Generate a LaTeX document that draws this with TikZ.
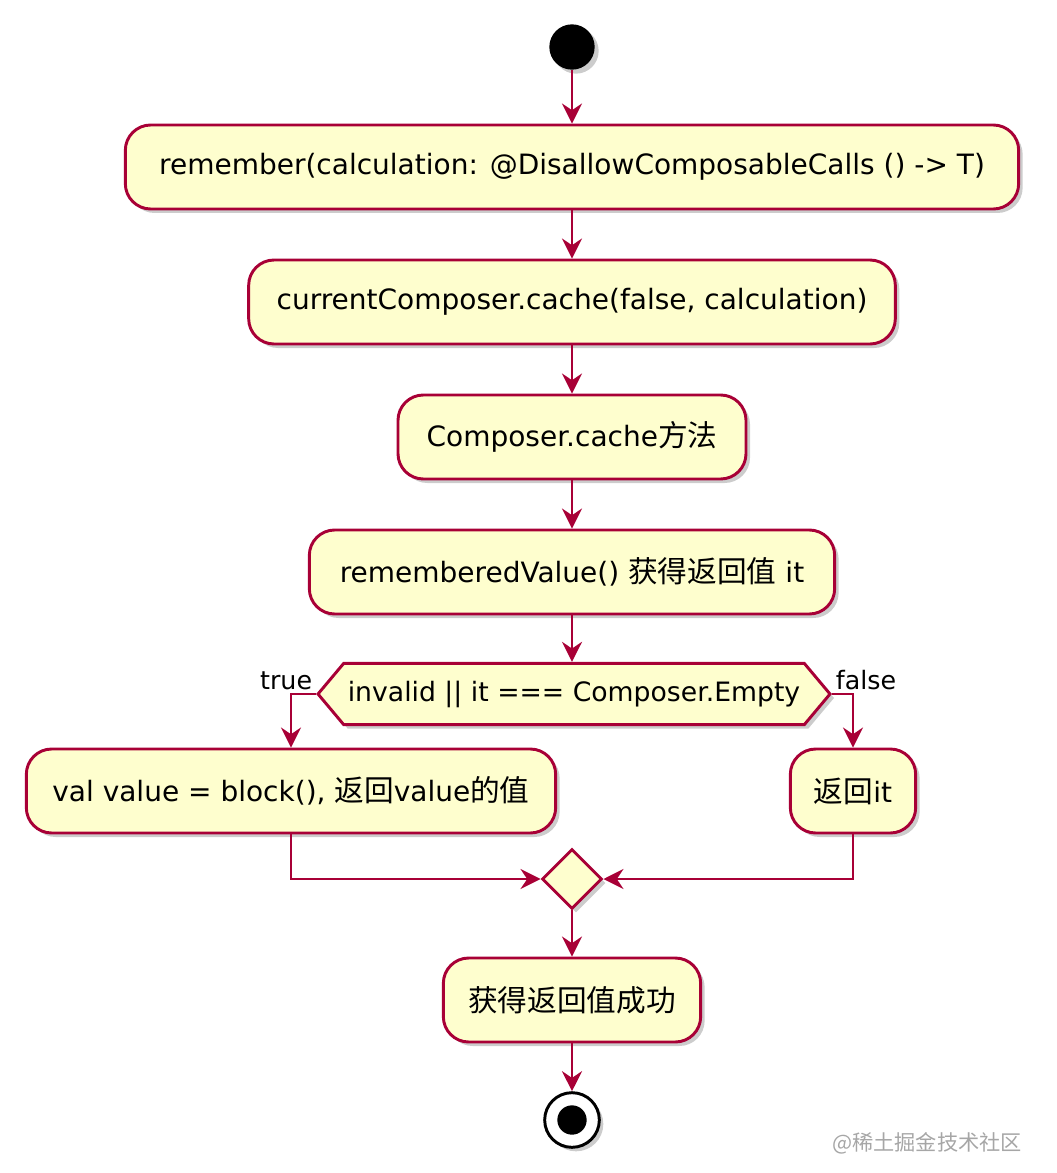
\documentclass[tikz,border=0pt]{standalone}
\usepackage{fontspec}
\setmainfont{DejaVu Sans}
\newfontfamily\cjk[Scale=1.06]{Noto Sans CJK SC}
\usetikzlibrary{shapes.geometric, shapes.symbols, arrows.meta, shadows}
\definecolor{umlred}{HTML}{A80036}
\definecolor{umlfill}{HTML}{FEFECE}

\begin{document}
\begin{tikzpicture}[
    x=0.75pt, y=-0.75pt,
    >={Stealth[length=15pt, width=15pt, inset=5pt]},
    font=\fontsize{21}{24}\selectfont,
    shade/.style={drop shadow={shadow xshift=3pt, shadow yshift=-3pt, fill=black!40, opacity=0.5}},
    act/.style={rectangle, draw=umlred, line width=2.2pt, fill=umlfill, rounded corners=19pt, minimum height=63pt, inner xsep=14pt, shade},
    cond/.style={signal, signal to=west and east, signal pointer angle=100, draw=umlred, line width=2.2pt, fill=umlfill, minimum height=46pt, minimum width=384pt, inner xsep=2pt, font=\fontsize{20}{24}\selectfont, shade},
    merge/.style={diamond, draw=umlred, line width=2.2pt, fill=umlfill, minimum size=45pt, inner sep=0pt, shade},
    start/.style={circle, fill=black, minimum size=34pt, inner sep=0pt, shade},
    stop/.style={circle, draw=black, line width=2.2pt, fill=white, minimum size=41pt, inner sep=0pt, shade,
        path picture={\fill[black] (path picture bounding box.center) circle (11pt);}},
    flow/.style={->, draw=umlred, line width=2pt},
    lbl/.style={inner sep=2pt, text=black, font=\fontsize{19}{22}\selectfont}
]

\useasboundingbox (0,0) rectangle (1056,1173);

% Nodes
\node[start] (start) at (572,47) {};
\node[act, minimum width=670pt] (remember) at (572,167) {remember(calculation: @DisallowComposableCalls () -> T)};
\node[act, minimum width=485pt] (current) at (572,302) {currentComposer.cache(false, calculation)};
\node[act, minimum width=261pt] (cache) at (572,437) {Composer.cache{\cjk 方法}};
\node[act, minimum width=394pt] (value) at (572,572) {rememberedValue() {\cjk 获得返回值} it};
\node[cond] (check) at (574,694) {invalid || it === Composer.Empty};
\node[act, minimum width=397pt] (block) at (291,791) {val value = block(), {\cjk 返回}value{\cjk 的值}};
\node[act, minimum width=94pt] (backit) at (853,791) {{\cjk 返回}it};
\node[merge] (join) at (572,879) {};
\node[act, minimum width=193pt] (done) at (572,1000) {\cjk 获得返回值成功};
\node[stop] (stop) at (572,1120) {};
\node[text=black!35, font=\cjk\fontsize{15}{18}\selectfont] (mark) at (927,1143) {@稀土掘金技术社区};

% Links
\draw[flow] (start) -- (remember);
\draw[flow] (remember) -- (current);
\draw[flow] (current) -- (cache);
\draw[flow] (cache) -- (value);
\draw[flow] (value) -- (value |- check.north);
\draw[flow] (check.west) -| node[pos=0, anchor=south east, lbl] {true} (block);
\draw[flow] (check.east) -| node[pos=0, anchor=south west, lbl] {false} (backit);
\draw[flow] (block) |- (join);
\draw[flow] (backit) |- (join);
\draw[flow] (join) -- (done);
\draw[flow] (done) -- (stop);

\end{tikzpicture}
\end{document}
